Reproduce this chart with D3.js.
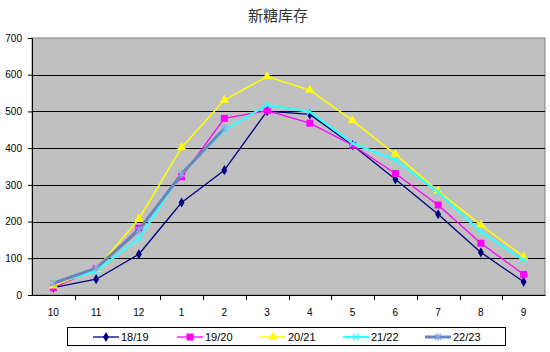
<!DOCTYPE html>
<html>
<head>
<meta charset="utf-8">
<script src="https://cdn.jsdelivr.net/npm/d3@7"></script>
<style>
  body { margin: 0; background: #fff; }
  text { font-family: "Liberation Sans", "DejaVu Sans", sans-serif; }
</style>
</head>
<body>
<svg id="chart" width="550" height="352"></svg>
<script>
// months of the sugar season, Oct -> Sep
const months = ["10", "11", "12", "1", "2", "3", "4", "5", "6", "7", "8", "9"];
const yTicks = [0, 100, 200, 300, 400, 500, 600, 700];

const s1819 = [20, 43, 111, 252, 340, 501, 492, 408, 315, 220, 116, 36];
const s1920 = [20, 72, 182, 322, 481, 502, 468, 408, 331, 245, 141, 56];
const s2021 = [25, 70, 207, 402, 531, 595, 558, 475, 383, 283, 191, 104];
const s2122 = [32, 65, 154, 331, 449, 518, 499, 413, 368, 280, 172, 95];
const s2223 = [32, 73, 177, 330, 454];

const seriesNames = ["18/19", "19/20", "20/21", "21/22", "22/23"];

const series = [
  { name: seriesNames[0], values: s1819, color: "#000080", width: 1.3, marker: "diamond" },
  { name: seriesNames[1], values: s1920, color: "#ff00ff", width: 1.3, marker: "square" },
  { name: seriesNames[2], values: s2021, color: "#ffff00", width: 1.5, marker: "triangle" },
  { name: seriesNames[3], values: s2122, color: "#33ffff", width: 2.2, marker: "x" },
  { name: seriesNames[4], values: s2223, color: "#6a84bd", width: 3, marker: "star" }
];

const svg = d3.select("#chart");
const margin = { top: 38, left: 32, right: 5, bottom: 57 };
const width = 545 - margin.left;
const height = 295 - margin.top;

const g = svg.append("g").attr("transform", `translate(${margin.left},${margin.top})`);

// title
svg.append("text")
  .attr("x", 278).attr("y", 21)
  .attr("text-anchor", "middle")
  .attr("font-size", 15)
  .attr("fill", "#333")
  .style("font-family", "'Noto Sans CJK SC', sans-serif")
  .text("新糖库存");

const x = d3.scaleBand().domain(months).range([0, width]);
const y = d3.scaleLinear().domain([0, 700]).range([height, 0]);

// plot background
g.append("rect")
  .attr("width", width).attr("height", height)
  .attr("fill", "#c0c0c0")
  .attr("stroke", "#808080");

// grid lines
g.selectAll(".grid").data(yTicks.slice(1, -1)).enter()
  .append("line")
  .attr("x1", 0).attr("x2", width)
  .attr("y1", d => Math.round(y(d)) + 0.5).attr("y2", d => Math.round(y(d)) + 0.5)
  .attr("stroke", "#000");

// y axis
const yAxis = g.append("g").call(d3.axisLeft(y).tickValues(yTicks).tickSize(4).tickPadding(6));
yAxis.select(".domain").attr("stroke", "#000");
yAxis.selectAll("text").attr("font-size", 10).attr("fill", "#000");

// x axis, ticks at category boundaries
const xAxis = g.append("g").attr("transform", `translate(0,${height})`)
  .call(d3.axisBottom(x).tickSize(0).tickPadding(14));
xAxis.select(".domain").attr("stroke", "#000");
xAxis.selectAll("text").attr("font-size", 10).attr("fill", "#000");
xAxis.selectAll(".bound").data(months.slice(1)).enter()
  .append("line")
  .attr("x1", d => Math.round(x(d)) + 0.5).attr("x2", d => Math.round(x(d)) + 0.5)
  .attr("y1", 0).attr("y2", 5)
  .attr("stroke", "#000");

function drawMarker(sel, type, color) {
  if (type === "diamond") {
    sel.append("path").attr("d", d3.symbol(d3.symbolDiamond, 30)()).attr("fill", color);
  } else if (type === "square") {
    sel.append("rect").attr("x", -3.5).attr("y", -3.5).attr("width", 7).attr("height", 7).attr("fill", color);
  } else if (type === "triangle") {
    sel.append("path").attr("d", d3.symbol(d3.symbolTriangle, 38)()).attr("fill", color);
  } else if (type === "x") {
    sel.append("path").attr("d", "M-3,-3L3,3M-3,3L3,-3").attr("stroke", color).attr("stroke-width", 1.2);
  } else if (type === "star") {
    sel.append("path").attr("d", "M-3,-3L3,3M-3,3L3,-3M0,-4L0,4").attr("stroke", color).attr("stroke-width", 1.2);
  }
}

const line = d3.line()
  .x((d, i) => x(months[i]) + x.bandwidth() / 2)
  .y(d => y(d));

series.forEach(s => {
  g.append("path")
    .datum(s.values)
    .attr("d", line)
    .attr("fill", "none")
    .attr("stroke", s.color)
    .attr("stroke-width", s.width)
    .attr("stroke-linejoin", "round");
  const pts = g.selectAll(null).data(s.values).enter()
    .append("g")
    .attr("transform", (d, i) => `translate(${x(months[i]) + x.bandwidth() / 2},${y(d)})`);
  drawMarker(pts, s.marker, s.marker === "star" ? "#8faad8" : s.color);
});

// legend
const legend = svg.append("g");
legend.append("rect")
  .attr("x", 67.5).attr("y", 327.5)
  .attr("width", 438).attr("height", 18)
  .attr("fill", "#fff").attr("stroke", "#000");

const legendX = [93, 177, 260, 343, 425];
series.forEach((s, i) => {
  const item = legend.append("g").attr("transform", `translate(${legendX[i]},337)`);
  item.append("line").attr("x1", 0).attr("x2", 26).attr("y1", 0).attr("y2", 0)
    .attr("stroke", s.color).attr("stroke-width", s.width);
  const m = item.append("g").attr("transform", "translate(13,0)");
  drawMarker(m, s.marker, s.marker === "star" ? "#8faad8" : s.color);
  item.append("text").attr("x", 28).attr("y", 4)
    .attr("font-size", 11).attr("fill", "#000")
    .text(s.name);
});
</script>
</body>
</html>
